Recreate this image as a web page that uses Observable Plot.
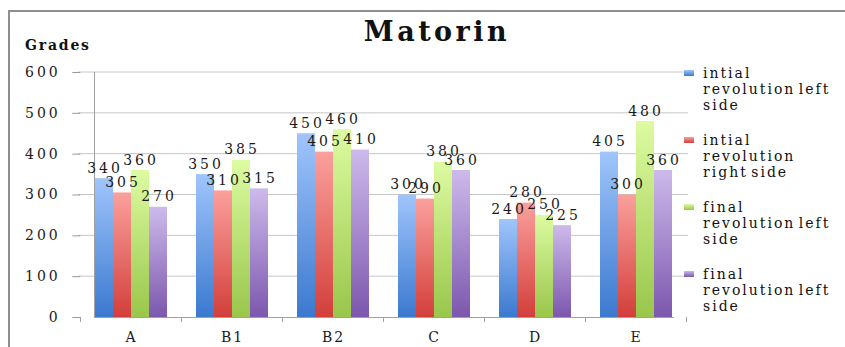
<!DOCTYPE html>
<html>
<head>
<meta charset="utf-8">
<script src="https://cdn.jsdelivr.net/npm/d3@7"></script>
<script src="https://cdn.jsdelivr.net/npm/@observablehq/plot@0.6"></script>
<style>
  body { margin: 0; background: #fff; }
  #wrap { position: relative; width: 845px; height: 347px; overflow: hidden; font-family: "DejaVu Serif", serif; color: #111; }
  #border { position: absolute; left: 8px; top: 10px; width: 900px; height: 400px; border-left: 2px solid #8e8e8e; border-top: 2px solid #8e8e8e; }
  #title { position: absolute; left: 0; width: 874px; top: 16px; text-align: center; font-weight: bold; font-size: 27px; letter-spacing: 3.5px; }
  #ylabel { position: absolute; left: 25px; top: 37px; font-weight: bold; font-size: 14px; letter-spacing: 1.8px; }
  #chart { position: absolute; left: 0; top: 0; }
  #legend { position: absolute; left: 684px; top: 65px; font-size: 14px; line-height: 16px; letter-spacing: 2px; word-spacing: -3px; }
  .item { display: flex; align-items: flex-start; margin-bottom: 19px; }
  .sw { width: 10px; height: 6px; margin-top: 5px; margin-right: 9px; flex: none; }
  #wrap svg text { letter-spacing: 3px; }
  #wrap svg g[aria-label="fx-axis tick label"] text { letter-spacing: 2px; }
</style>
</head>
<body>
<div id="wrap">
  <div id="border"></div>
  <svg width="0" height="0" style="position:absolute">
    <defs>
      <linearGradient id="g0" x1="0" y1="0" x2="0" y2="1"><stop offset="0" stop-color="#a0c5fb"/><stop offset="1" stop-color="#3b79cf"/></linearGradient>
      <linearGradient id="g1" x1="0" y1="0" x2="0" y2="1"><stop offset="0" stop-color="#fba09c"/><stop offset="1" stop-color="#d23f3b"/></linearGradient>
      <linearGradient id="g2" x1="0" y1="0" x2="0" y2="1"><stop offset="0" stop-color="#ddfba1"/><stop offset="1" stop-color="#99c64b"/></linearGradient>
      <linearGradient id="g3" x1="0" y1="0" x2="0" y2="1"><stop offset="0" stop-color="#cdbaeb"/><stop offset="1" stop-color="#7c57ae"/></linearGradient>
    </defs>
  </svg>
  <div id="chart"></div>
  <div id="title">Matorin</div>
  <div id="ylabel">Grades</div>
  <div id="legend"></div>
</div>
<script>
const categories = ["A", "B1", "B2", "C", "D", "E"];
const seriesNames = [
  "intial revolution left side",
  "intial revolution right side",
  "final revolution left side",
  "final revolution left side"
];
const legendLines = [
  ["intial", "revolution left", "side"],
  ["intial", "revolution", "right side"],
  ["final", "revolution left", "side"],
  ["final", "revolution left", "side"]
];
const initialLeft  = [340, 350, 450, 300, 240, 405];
const initialRight = [305, 310, 405, 290, 280, 300];
const finalLeft    = [360, 385, 460, 380, 250, 480];
const finalLeft2   = [270, 315, 410, 360, 225, 360];
const yTicks = [0, 100, 200, 300, 400, 500, 600];
const seriesColors = ["url(#g0)", "url(#g1)", "url(#g2)", "url(#g3)"];
const swatchCss = [
  "linear-gradient(#a0c5fb,#3b79cf)", "linear-gradient(#fba09c,#d23f3b)",
  "linear-gradient(#ddfba1,#99c64b)", "linear-gradient(#cdbaeb,#7c57ae)"
];

const allSeries = [initialLeft, initialRight, finalLeft, finalLeft2];
const data = categories.flatMap((c, i) =>
  allSeries.map((vals, j) => ({cat: c, s: j, name: seriesNames[j], v: vals[i]}))
);

const W = 845, H = 347, mL = 78, mR = 157, mT = 72, mB = 30;
const padInner = 0.27, padOuter = padInner / 2;
const step = (W - mL - mR) / categories.length;
const axisShift = -padOuter * step; // move the y axis from the first facet to the plot's left edge

const plot = Plot.plot({
  width: W,
  height: H,
  marginLeft: mL,
  marginRight: mR,
  marginTop: mT,
  marginBottom: mB,
  style: {background: "none", fontFamily: "DejaVu Serif", fontSize: "14px", color: "#1a1a1a"},
  fx: {domain: categories, paddingInner: padInner, paddingOuter: padOuter, label: null},
  x: {domain: [0, 1, 2, 3], padding: 0, axis: null},
  y: {domain: [0, 600], label: null},
  color: {type: "identity"},
  marks: [
    Plot.axisY(yTicks, {tickSize: 8, tickPadding: 12, dx: axisShift, label: null, stroke: "#9a9a9a", fill: "#1a1a1a"}),
    Plot.frame({anchor: "left", stroke: "#a0a0a0", facet: "super"}),
    Plot.frame({anchor: "bottom", stroke: "#a0a0a0", facet: "super"}),
    Plot.barY(data, {fx: "cat", x: "s", y: "v", fill: d => seriesColors[d.s]}),
    Plot.text(data, {fx: "cat", x: "s", y: "v", text: d => String(d.v), lineAnchor: "bottom", dy: -6, dx: 0.5, fill: "#1a1a1a"}),
    Plot.axisFx({anchor: "bottom", tickSize: 0, tickPadding: 15, label: null, fill: "#1a1a1a"})
  ]
});
document.getElementById("chart").appendChild(plot);

const svg = d3.select(plot);
const fx = plot.scale("fx");
const ys = plot.scale("y");
const left = fx.range[0], right = fx.range[1];

// horizontal gridlines across the whole plot area (behind bars)
svg.insert("g", ":first-child").selectAll("line").data(yTicks.filter(d => d > 0)).join("line")
  .attr("x1", left).attr("x2", right)
  .attr("y1", d => ys.apply(d)).attr("y2", d => ys.apply(d))
  .attr("stroke", "#c6c6c6");

// category boundary tick marks on the baseline
const gap = fx.step - fx.bandwidth;
const bounds = categories.map(c => fx.apply(c) - gap / 2)
  .concat([fx.apply(categories[categories.length - 1]) + fx.bandwidth + gap / 2]);
const y0 = ys.apply(0);
svg.append("g").selectAll("line").data(bounds).join("line")
  .attr("x1", d => d).attr("x2", d => d)
  .attr("y1", y0).attr("y2", y0 + 5)
  .attr("stroke", "#a0a0a0");

// legend
const legend = d3.select("#legend");
legendLines.forEach((lines, j) => {
  const it = legend.append("div").attr("class", "item");
  it.append("div").attr("class", "sw").style("background", swatchCss[j]);
  it.append("div").html(lines.join("<br>"));
});
</script>
</body>
</html>
